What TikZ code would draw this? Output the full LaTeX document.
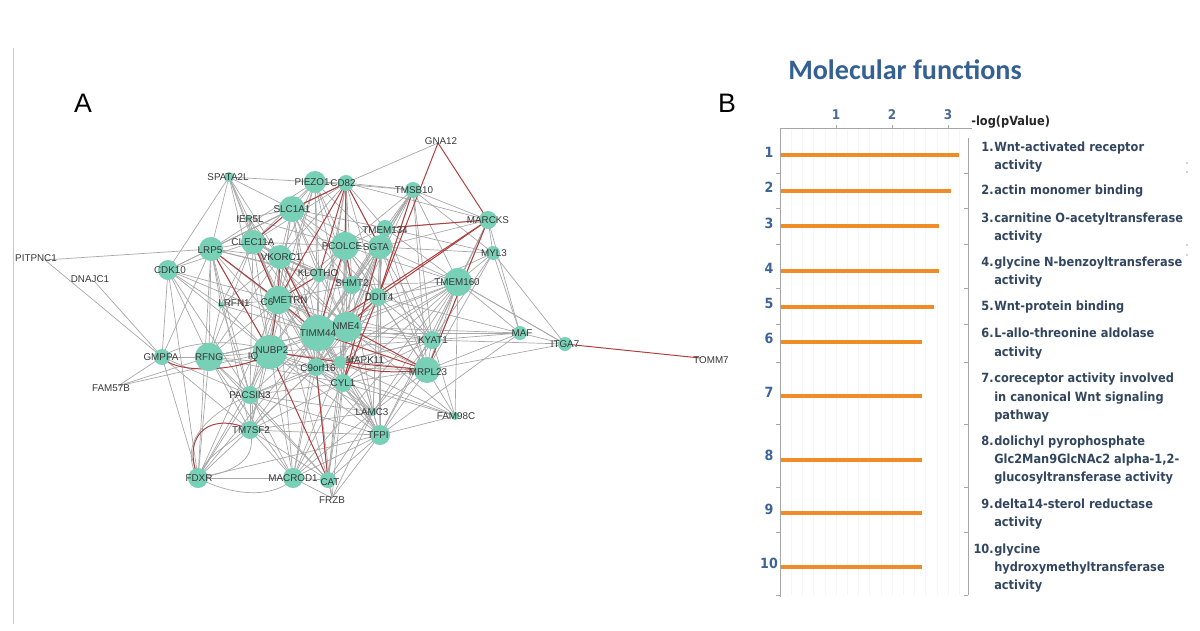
\documentclass[tikz,border=0pt]{standalone}
\usepackage{fontspec}
\setmainfont{Liberation Sans}
\newfontfamily\condfont{DejaVu Sans Condensed}
\newfontfamily\titlefont{Carlito}
\definecolor{genegreen}{RGB}{120,208,182}
\definecolor{edgegray}{RGB}{168,168,168}
\definecolor{edgered}{RGB}{176,62,62}
\definecolor{barorange}{RGB}{240,140,40}
\definecolor{titleblue}{RGB}{52,96,146}
\definecolor{numblue}{RGB}{62,100,150}
\definecolor{itemslate}{RGB}{50,70,95}
\definecolor{labelgray}{RGB}{55,55,55}

\begin{document}
\begin{tikzpicture}[x=0.025cm,y=-0.025cm,
  gene/.style={circle,fill=genegreen,inner sep=0pt},
  glabel/.style={text=labelgray,inner sep=0pt,font=\fontsize{7}{8}\selectfont},
  grayedge/.style={edgegray,line width=0.5pt},
  rededge/.style={edgered,line width=0.7pt},
  itemtxt/.style={text=itemslate,inner sep=0pt,anchor=base west,font=\condfont\bfseries\fontsize{9}{11}\selectfont},
  axisline/.style={gray!70,line width=0.6pt}]
\useasboundingbox (0,0) rectangle (1200,630);
\draw[gray!45,line width=0.7pt] (13,48) -- (13,624);
\node[font=\fontsize{19}{20}\selectfont] (panA) at (83,103) {A};
\node[font=\fontsize{19}{20}\selectfont] (panB) at (727,103) {B};

% network
\foreach \n/\x/\y in {spata/229/177,piezo/315/182,cd82/346/183,slc/292/209,ier/248/218,
  clec/253/242,lrp/211/249,vkor/280/257,pcol/345/246,sgta/380/247,tmem134/385/228,
  pitp/45/260,dnaj/95/282,cdk/168/270,klo/319/275,shmt/352/285,ddit/378/297,
  metrn/278/300,lrfn/221/305,timm/318/333,nme/347/327,nubp/270/352,rfng/209/357,
  gmppa/162/357,c9/316/367,mapk/340/362,cyl/343/383,fam57/118/386,pacs/250/395,
  tm7/250/430,lamc/373/412,tfpi/380/435,fdxr/198/478,macro/293/478,cat/328/480,
  frzb/332/498,gna/438/143,tmsb/413/190,marcks/488/220,myl/493/253,tmem160/458/282,
  kyat/432/340,mrpl/427/370,maf/520/333,fam98/455/416,itga/565/344,tomm/700/358}
  \coordinate (\n) at (\x,\y);

\foreach \a/\bs in {
  spata/{piezo,lrp,cdk,clec,slc,vkor,metrn,ier,nubp},
  piezo/{cd82,slc,lrp,tmsb,pcol,vkor,clec,sgta,timm,nme,metrn,nubp,klo,shmt},
  cd82/{tmsb,marcks,gna,sgta,pcol,tmem134,shmt,slc,timm,nme,ddit,c9,vkor,clec,lrp},
  slc/{clec,lrp,vkor,pcol,sgta,metrn,tmem134,timm,nubp,shmt,ier,cdk,nme,klo,c9,ddit},
  ier/{clec,vkor,pcol,metrn,timm},
  clec/{lrp,vkor,metrn,timm,nubp,pcol,rfng,cdk,klo,nme,shmt,c9,pacs,lrfn},
  lrp/{cdk,vkor,metrn,nubp,rfng,timm,gmppa,lrfn,pacs,pitp,tm7,fdxr,klo,c9,shmt},
  vkor/{pcol,metrn,timm,nme,nubp,klo,shmt,c9,rfng,lrfn,cyl,pacs,mapk,ddit},
  pcol/{sgta,tmem134,shmt,timm,nme,ddit,klo,metrn,nubp,c9,mapk,tmem160,kyat,cyl,mrpl,lamc},
  sgta/{tmem134,shmt,ddit,timm,nme,tmem160,marcks,myl,mrpl,kyat,c9,mapk,cyl,tfpi,lamc,tmsb},
  tmem134/{tmsb,marcks,ddit,tmem160,nme,myl,timm,shmt,kyat,mrpl},
  tmsb/{marcks,tmem160,sgta,myl,ddit,kyat,pcol,timm,nme,shmt,mrpl},
  marcks/{myl,tmem160,kyat,mrpl,maf},
  myl/{tmem160,itga,maf,kyat,mrpl},
  tmem160/{kyat,mrpl,maf,nme,timm,ddit,cyl,fam98,itga,tfpi,shmt,mapk,c9,lamc,macro},
  cdk/{gmppa,rfng,nubp,metrn,lrfn,timm,pacs,fdxr},
  klo/{shmt,metrn,timm,nme,nubp},
  shmt/{ddit,nme,timm,metrn,c9,mapk},
  ddit/{timm,kyat,mrpl,mapk,c9,cyl,tfpi,lamc,maf},
  metrn/{nme,lrfn,rfng,c9,pacs,tm7,cyl,mapk,macro,cat,tfpi,fdxr,kyat,mrpl},
  lrfn/{nubp,rfng,timm,pacs},
  timm/{nme,nubp,c9,mapk,cyl,kyat,pacs,tm7,rfng,tfpi,lamc,macro,fdxr,myl,maf},
  nme/{nubp,c9,mapk,cyl,kyat,tfpi,lamc,cat,maf,fam98,tmem134},
  nubp/{rfng,c9,cyl,pacs,tm7,macro,fdxr,tfpi,mapk,lamc,kyat,mrpl},
  rfng/{gmppa,pacs,tm7,fdxr,macro,c9,timm,cyl,cat,nme},
  gmppa/{pitp,dnaj,fam57,fdxr,pacs,tm7},
  c9/{cyl,mapk,lamc,tfpi,macro,cat,pacs,mrpl,kyat,fam98,tm7,fdxr},
  mapk/{cyl,kyat,tfpi,fam98},
  cyl/{lamc,tfpi,mrpl,fam98,macro,cat,frzb,kyat,pacs,tm7},
  pacs/{tm7,macro,fdxr,cat,tfpi,lamc,mapk},
  tm7/{macro,cat,tfpi,lamc},
  lamc/{tfpi,mrpl,macro,cat},
  tfpi/{mrpl,fam98,macro,cat,frzb,maf,kyat,fdxr},
  kyat/{mrpl,maf,itga,fam98,lamc},
  mrpl/{maf,itga,fam98},
  maf/{itga},
  itga/{tmem160},
  macro/{cat,frzb,fdxr,mapk},
  fam57/{rfng,nubp},
  cat/{frzb,mapk},
  frzb/{lamc,c9}}
  {\foreach \b in \bs {\draw[grayedge] (\a) -- (\b);}}
\draw[grayedge] (fdxr) .. controls (250,470) and (255,450) .. (tm7);
\draw[grayedge] (fdxr) .. controls (175,440) and (215,410) .. (pacs);
\draw[grayedge] (fdxr) .. controls (240,500) and (280,495) .. (macro);
\draw[grayedge] (fdxr) .. controls (210,440) and (265,440) .. (pacs);
\draw[grayedge] (gmppa) .. controls (185,340) and (240,338) .. (nubp);

\foreach \a/\b in {gna/marcks,gna/ddit,cd82/slc,cd82/klo,cd82/pcol,cd82/sgta,cd82/metrn,
  slc/clec,lrp/metrn,lrp/nubp,vkor/metrn,vkor/timm,klo/metrn,pcol/timm,pcol/shmt,
  sgta/cyl,tmem134/marcks,marcks/ddit,marcks/timm,tmsb/ddit,ddit/nme,ddit/cyl,
  timm/mrpl,mapk/mrpl,nme/mrpl,nubp/cat,c9/cat,metrn/nubp,metrn/timm,nubp/mapk,
  itga/tomm,marcks/mrpl,clec/metrn}
  \draw[rededge] (\a) -- (\b);
\draw[rededge] (gmppa) .. controls (175,375) and (245,372) .. (nubp);
\draw[rededge] (fdxr) .. controls (180,430) and (215,412) .. (tm7);
\draw[rededge] (mapk) .. controls (375,375) and (400,372) .. (mrpl);

\foreach \n/\r in {spata/5,piezo/11,cd82/8,slc/13,ier/3,clec/12,lrp/12,vkor/12,pcol/14,
  sgta/12,tmem134/8,cdk/10,klo/7,shmt/9,ddit/9,metrn/14,lrfn/3,timm/18,nme/15,nubp/17,
  rfng/14,gmppa/8,c9/9,mapk/6,cyl/9,pacs/9,tm7/9,lamc/4,tfpi/10,fdxr/10,macro/10,
  cat/8,tmsb/8,marcks/9,myl/7,tmem160/14,kyat/9,mrpl/13,maf/7,fam98/4,itga/7}
  \node[gene,minimum size=\r*0.05cm] (\n-dot) at (\n) {};

\foreach \n/\x/\y/\t in {spata/228/177/SPATA2L,piezo/312/182/PIEZO1,cd82/343/183/CD82,
  slc/292/209/SLC1A1,ier/250/219/IER5L,clec/253/242/CLEC11A,lrp/210/250/LRP5,
  vkor/281/257/VKORC1,pcol/342/246/PCOLCE,sgta/376/247/SGTA,tmem134/385/230/TMEM134,
  pitp/36/258/PITPNC1,dnaj/90/279/DNAJC1,cdk/170/270/CDK10,klo/318/273/KLOTHO,
  shmt/352/283/SHMT2,ddit/379/297/DDIT4,metrn/290/300/METRN,lrfn/234/303/LRFN1,
  timm/318/333/TIMM44,nme/346/326/NME4,nubp/272/350/NUBP2,rfng/209/357/RFNG,
  gmppa/161/357/GMPPA,c9/318/368/C9orf16,mapk/365/360/MAPK11,cyl/343/383/CYL1,
  fam57/111/388/FAM57B,pacs/250/395/PACSIN3,tm7/251/430/TM7SF2,lamc/372/412/LAMC3,
  tfpi/378/435/TFPI,fdxr/199/478/FDXR,macro/293/478/MACROD1,cat/330/482/CAT,
  frzb/332/500/FRZB,gna/441/141/GNA12,tmsb/414/190/TMSB10,marcks/488/220/MARCKS,
  myl/494/253/MYL3,tmem160/457/282/TMEM160,kyat/433/340/KYAT1,mrpl/428/372/MRPL23,
  maf/522/333/MAF,fam98/456/416/FAM98C,itga/565/344/ITGA7,tomm/711/360/TOMM7}
  \node[glabel] (\n-l) at (\x,\y) {\t};
\node[glabel] (c6-l) at (267,302) {C6};
\node[glabel] (iq-l) at (253,357) {IQ};

% bar chart
\node[text=titleblue,font=\titlefont\bfseries\fontsize{20}{22}\selectfont,anchor=base] (title) at (905,80) {Molecular functions};
\foreach \x in {791.2,802.4,...,960} \draw[gray!8] (\x,130) -- (\x,595);
\draw[axisline] (780,128) -- (972,128);
\draw[axisline] (780,128) -- (780,597);
\draw[axisline] (968,138) -- (968,595);
\foreach \v in {1,2,3} {
  \draw[axisline] (780+56*\v,128) -- (780+56*\v,125);
  \node[text=numblue!80!gray,font=\condfont\bfseries\fontsize{9.5}{11}\selectfont] (tick\v) at (780+56*\v,115) {\v};
}
\foreach \y in {173,208,244,288,324,362,424,487,532,595} {
  \draw[axisline] (776,\y) -- (780,\y);
  \draw[axisline] (964,\y) -- (968,\y);
}
\node[text=black!85,font=\condfont\bfseries\fontsize{9}{11}\selectfont,anchor=west,inner sep=0pt] (xlab) at (971,122) {-log(pValue)};
\foreach \i/\y/\v in {1/155/3.2,2/191/3.05,3/226/2.84,4/271/2.84,5/307/2.75,
  6/342/2.54,7/396/2.54,8/460/2.54,9/513/2.54,10/567/2.54} {
  \draw[barorange,line width=2.9pt] (781,\y) -- (780+56*\v,\y);
}
\foreach \i/\y in {1/152,2/187,3/223,4/268,5/303,6/338,7/392,8/455,9/509,10/563}
  \node[text=numblue,font=\condfont\bfseries\fontsize{10}{12}\selectfont] (cat\i) at (769,\y) {\i};

\foreach \i/\y in {1/151.5,2/194.5,3/222.5,4/266.5,5/310.5,6/337.5,7/382.5,8/445.5,9/508.5,10/553.5}
  \node[itemtxt,anchor=base east] (num\i) at (994,\y) {\i.};
\foreach \k/\y/\t in {a/151.5/Wnt-activated receptor,b/169.5/activity,
  c/194.5/actin monomer binding,
  d/222.5/carnitine O-acetyltransferase,e/240.5/activity,
  f/266.5/glycine N-benzoyltransferase,g/284.5/activity,
  h/310.5/Wnt-protein binding,
  i/337.5/L-allo-threonine aldolase,j/356.5/activity,
  k/382.5/coreceptor activity involved,l/401.5/in canonical Wnt signaling,m/419.5/pathway,
  n/445.5/dolichyl pyrophosphate,o/463.5/{Glc2Man9GlcNAc2 alpha-1,2-},p/481.5/glucosyltransferase activity,
  q/508.5/delta14-sterol reductase,r/526.5/activity,
  s/553.5/glycine,t/571.5/hydroxymethyltransferase,u/589.5/activity}
  \node[itemtxt] (line\k) at (994,\y) {\t};
\foreach \y in {163,172,245,255} \fill[gray!70] (1187,\y) circle (0.9);
\end{tikzpicture}
\end{document}
